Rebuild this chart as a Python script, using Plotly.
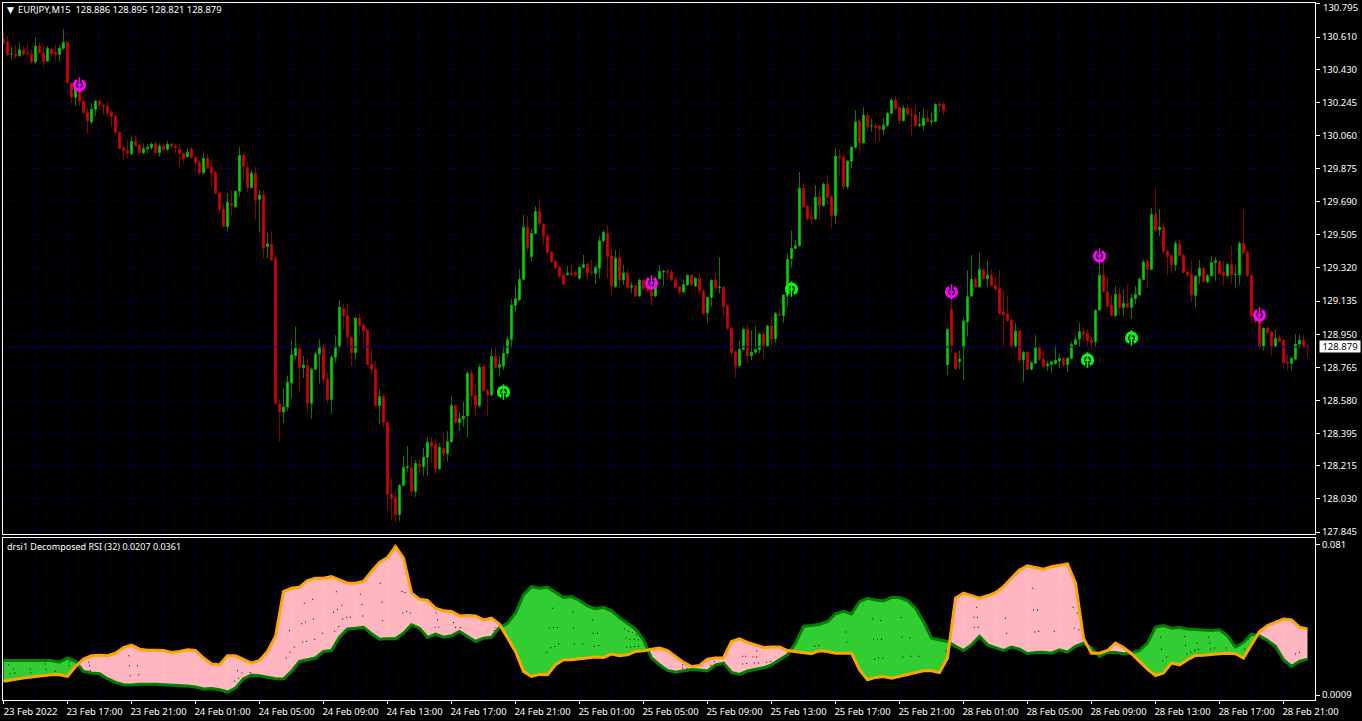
import plotly.graph_objects as go

# ---- price data (EURJPY M15) ----
opens = [
130.597,130.582,130.515,130.515,130.506,130.538,130.519,130.513,130.471,130.560,
130.519,130.476,130.541,130.523,130.513,130.547,130.580,130.351,130.273,130.323,
130.249,130.189,130.135,130.206,130.251,130.229,130.223,130.189,130.169,130.078,
129.990,129.977,129.957,130.027,130.007,129.964,129.986,129.992,130.014,129.964,
130.001,129.983,130.012,130.001,129.979,129.960,129.942,129.985,129.938,129.910,
129.852,129.932,129.882,129.854,129.739,129.647,129.551,129.681,129.662,129.748,
129.949,129.880,129.769,129.850,129.703,129.726,129.439,129.452,129.370,128.560,
128.515,128.543,128.677,128.830,128.867,128.761,128.774,128.564,128.753,128.839,
128.882,128.698,128.586,128.821,128.880,129.094,129.055,128.932,128.847,129.040,
129.001,128.973,128.783,128.753,128.552,128.603,128.457,128.055,128.033,127.942,
128.105,128.206,128.206,128.072,128.225,128.210,128.262,128.346,128.334,128.199,
128.312,128.284,128.349,128.552,128.456,128.478,128.493,128.731,128.608,128.552,
128.770,128.634,128.610,128.826,128.765,128.772,128.843,128.921,129.111,129.141,
129.256,129.547,129.383,129.513,129.636,129.564,129.499,129.407,129.357,129.323,
129.282,129.282,129.290,129.294,129.262,129.323,129.342,129.297,129.290,129.318,
129.472,129.513,129.387,129.215,129.374,129.253,129.290,129.212,129.221,129.163,
129.251,129.212,129.189,129.163,129.260,129.297,129.303,129.297,129.253,129.214,
129.186,129.225,129.279,129.219,129.262,129.191,129.070,129.156,129.253,129.210,
129.212,129.107,128.983,128.850,128.774,128.865,128.977,128.830,128.849,128.865,
128.949,128.884,128.996,128.925,129.063,129.055,129.160,129.372,129.430,129.445,
129.765,129.666,129.605,129.594,129.715,129.668,129.789,129.718,129.614,129.945,
129.938,129.774,129.916,129.994,130.139,130.020,130.173,130.113,130.113,130.113,
130.094,130.117,130.184,130.258,130.217,130.143,130.212,130.175,130.175,130.117,
130.115,130.156,130.137,130.139,130.236,130.236,128.780,129.089,128.843,128.798,
128.876,129.018,129.163,129.256,129.215,129.309,129.260,129.279,129.223,129.206,
129.072,129.063,129.029,128.880,128.968,128.806,128.850,128.754,128.787,128.876,
128.810,128.772,128.782,128.787,128.802,128.815,128.780,128.815,128.893,128.923,
128.964,128.955,128.918,128.908,129.085,129.279,129.186,129.113,129.053,129.173,
129.100,129.122,129.100,129.150,129.169,129.256,129.357,129.312,129.619,129.532,
129.547,129.413,129.390,129.338,129.454,129.390,129.297,129.284,129.167,129.275,
129.318,129.243,129.277,129.351,129.355,129.295,129.277,129.340,129.282,129.282,
129.457,129.407,129.279,129.057,129.029,128.880,128.983,128.962,128.880,128.932,
128.917,128.794,128.787,128.811,128.895,128.917,128.886]

closes = [
130.575,130.510,130.517,130.504,130.538,130.515,130.515,130.471,130.560,130.523,
130.472,130.547,130.515,130.512,130.547,130.580,130.355,130.273,130.323,130.249,
130.188,130.143,130.206,130.251,130.229,130.221,130.188,130.165,130.076,129.988,
129.975,129.964,130.027,130.003,129.964,129.986,129.994,130.012,129.964,130.001,
129.983,130.011,130.001,129.992,129.960,129.931,129.966,129.938,129.910,129.852,
129.932,129.880,129.849,129.737,129.647,129.551,129.687,129.670,129.748,129.949,
129.886,129.769,129.850,129.703,129.726,129.433,129.454,129.364,128.565,128.517,
128.543,128.683,128.834,128.873,128.763,128.778,128.565,128.753,128.839,128.882,
128.698,128.586,128.821,128.880,129.100,129.055,128.936,128.847,129.040,128.997,
128.970,128.781,128.753,128.552,128.601,128.456,128.055,128.031,127.942,128.105,
128.206,128.210,128.072,128.228,128.210,128.262,128.346,128.327,128.199,128.318,
128.279,128.349,128.552,128.456,128.478,128.493,128.731,128.608,128.552,128.765,
128.634,128.610,128.826,128.763,128.780,128.843,128.921,129.111,129.148,129.256,
129.547,129.435,129.513,129.636,129.569,129.495,129.405,129.355,129.322,129.271,
129.228,129.290,129.279,129.282,129.323,129.338,129.294,129.294,129.323,129.471,
129.519,129.385,129.219,129.374,129.253,129.290,129.210,129.221,129.163,129.251,
129.204,129.191,129.163,129.249,129.301,129.301,129.294,129.253,129.210,129.186,
129.227,129.279,129.225,129.262,129.191,129.066,129.156,129.251,129.210,129.214,
129.104,128.981,128.847,128.774,128.865,128.977,128.830,128.849,128.865,128.951,
128.886,128.996,128.925,129.066,129.055,129.169,129.368,129.430,129.445,129.765,
129.662,129.594,129.595,129.715,129.668,129.789,129.715,129.614,129.945,129.938,
129.774,129.916,129.994,130.135,130.020,130.173,130.109,130.115,130.104,130.094,
130.117,130.184,130.258,130.210,130.143,130.212,130.178,130.171,130.115,130.121,
130.156,130.139,130.141,130.234,130.227,130.199,128.977,128.888,128.757,128.810,
129.022,129.160,129.256,129.215,129.312,129.260,129.279,129.223,129.202,129.067,
129.059,129.026,128.880,128.968,128.806,128.847,128.754,128.791,128.876,128.810,
128.769,128.783,128.795,128.804,128.815,128.778,128.815,128.893,128.919,128.964,
128.951,128.914,128.903,129.083,129.279,129.189,129.107,129.053,129.173,129.100,
129.122,129.100,129.150,129.173,129.258,129.353,129.312,129.619,129.528,129.547,
129.411,129.383,129.338,129.457,129.390,129.294,129.281,129.169,129.275,129.318,
129.243,129.277,129.351,129.361,129.286,129.277,129.340,129.282,129.284,129.457,
129.405,129.277,129.052,129.024,128.880,128.983,128.958,128.880,128.927,128.910,
128.791,128.787,128.815,128.895,128.917,128.884,128.879]

highs = [
130.640,130.616,130.556,130.566,130.579,130.556,130.575,130.538,130.607,130.579,
130.566,130.560,130.551,130.566,130.566,130.655,130.584,130.355,130.361,130.370,
130.277,130.212,130.243,130.258,130.258,130.240,130.243,130.202,130.175,130.081,
130.001,130.031,130.053,130.057,130.012,130.016,130.012,130.020,130.026,130.016,
130.016,130.031,130.020,130.012,130.012,129.964,129.988,129.992,129.945,129.923,
129.960,129.957,129.927,129.858,129.742,129.681,129.737,129.752,129.755,129.994,
129.960,129.914,129.867,129.882,129.755,129.755,129.517,129.526,129.381,128.588,
128.649,128.716,128.914,128.992,128.884,128.828,128.817,128.765,128.852,128.921,
128.895,128.740,128.834,128.945,129.141,129.122,129.122,128.945,129.048,129.066,
129.014,128.979,128.867,128.800,128.642,128.610,128.461,128.145,128.076,128.113,
128.269,128.325,128.266,128.247,128.256,128.316,128.374,128.374,128.368,128.340,
128.402,128.409,128.605,128.560,128.515,128.573,128.739,128.750,128.675,128.783,
128.776,128.647,128.867,128.876,128.828,128.889,128.936,129.145,129.225,129.312,
129.616,129.610,129.536,129.666,129.703,129.569,129.510,129.411,129.364,129.331,
129.290,129.331,129.342,129.305,129.331,129.392,129.350,129.368,129.336,129.499,
129.532,129.560,129.439,129.420,129.415,129.336,129.318,129.243,129.234,129.260,
129.256,129.262,129.268,129.268,129.336,129.309,129.318,129.309,129.271,129.219,
129.256,129.286,129.286,129.268,129.294,129.201,129.160,129.256,129.290,129.379,
129.219,129.113,128.986,128.862,128.914,128.988,129.007,128.973,128.996,128.958,
128.964,129.001,129.048,129.076,129.100,129.174,129.402,129.528,129.476,129.856,
129.793,129.672,129.662,129.783,129.756,129.797,129.839,129.728,129.988,129.983,
129.951,129.923,130.001,130.202,130.147,130.217,130.184,130.152,130.134,130.121,
130.156,130.193,130.266,130.281,130.221,130.230,130.230,130.212,130.230,130.191,
130.212,130.202,130.189,130.240,130.253,130.240,128.983,129.150,128.847,128.858,
129.044,129.309,129.392,129.271,129.407,129.318,129.359,129.312,129.275,129.309,
129.197,129.165,129.033,129.011,128.973,128.858,128.858,128.796,128.944,128.880,
128.858,128.802,128.802,128.888,128.843,128.821,128.821,128.908,128.936,129.011,
128.988,128.977,128.936,129.089,129.355,129.364,129.271,129.169,129.219,129.206,
129.200,129.230,129.174,129.219,129.271,129.364,129.368,129.655,129.765,129.647,
129.573,129.424,129.392,129.469,129.472,129.398,129.318,129.361,129.281,129.364,
129.323,129.286,129.387,129.379,129.364,129.359,129.349,129.443,129.336,129.469,
129.644,129.420,129.282,129.066,129.066,128.988,128.996,128.970,128.973,128.945,
128.921,128.839,128.821,128.949,128.951,128.945,128.895]

lows = [
130.566,130.500,130.486,130.491,130.500,130.504,130.510,130.463,130.459,130.515,
130.445,130.471,130.500,130.472,130.471,130.538,130.351,130.240,130.225,130.225,
130.184,130.072,130.124,130.169,130.202,130.175,130.165,130.109,130.068,129.985,
129.923,129.932,129.951,129.998,129.957,129.957,129.960,129.979,129.957,129.942,
129.960,129.975,129.983,129.960,129.875,129.904,129.938,129.932,129.858,129.839,
129.845,129.873,129.774,129.731,129.625,129.547,129.523,129.606,129.653,129.718,
129.811,129.741,129.765,129.588,129.523,129.376,129.376,129.359,128.554,128.349,
128.455,128.521,128.593,128.811,128.623,128.705,128.515,128.476,128.750,128.675,
128.675,128.564,128.504,128.791,128.871,128.977,128.880,128.772,128.811,128.945,
128.871,128.778,128.727,128.545,128.448,128.433,127.971,127.915,127.902,127.908,
128.102,128.182,128.046,128.042,128.163,128.159,128.159,128.232,128.169,128.191,
128.238,128.238,128.344,128.448,128.411,128.433,128.372,128.545,128.495,128.539,
128.629,128.495,128.606,128.757,128.713,128.750,128.824,128.871,129.076,129.137,
129.253,129.411,129.355,129.510,129.547,129.448,129.398,129.350,129.309,129.268,
129.225,129.281,129.275,129.268,129.256,129.318,129.256,129.279,129.230,129.262,
129.458,129.262,129.169,129.212,129.204,129.225,129.202,129.178,129.160,129.160,
129.197,129.187,129.107,129.160,129.253,129.219,129.253,129.249,129.206,129.169,
129.178,129.219,129.219,129.215,129.187,129.057,129.014,129.104,129.182,129.178,
129.048,128.977,128.824,128.707,128.768,128.862,128.787,128.806,128.843,128.843,
128.815,128.877,128.884,128.903,129.052,129.014,129.104,129.323,129.424,129.439,
129.659,129.588,129.560,129.588,129.584,129.662,129.672,129.539,129.566,129.834,
129.759,129.759,129.877,129.988,129.979,130.016,130.081,130.081,130.020,130.026,
130.063,130.109,130.180,130.202,130.119,130.137,130.169,130.053,130.106,130.106,
130.087,130.134,130.113,130.135,130.193,130.175,128.722,128.843,128.754,128.754,
128.694,128.936,129.160,129.212,129.212,129.256,129.215,129.215,129.188,129.063,
128.880,129.020,128.871,128.876,128.787,128.685,128.746,128.750,128.783,128.802,
128.765,128.746,128.735,128.778,128.759,128.772,128.739,128.810,128.888,128.876,
128.908,128.880,128.862,128.880,129.081,129.178,129.104,129.048,129.048,129.052,
129.048,129.094,129.037,129.118,129.163,129.253,129.204,129.308,129.523,129.498,
129.405,129.281,129.290,129.305,129.383,129.290,129.271,129.126,129.100,129.230,
129.238,129.234,129.271,129.249,129.282,129.225,129.271,129.230,129.208,129.225,
129.398,129.271,129.011,129.011,128.869,128.858,128.951,128.828,128.876,128.906,
128.768,128.746,128.746,128.802,128.869,128.869,128.821]

sell_bars = [19, 162, 237, 274, 314]
sell_prices = [130.342, 129.236, 129.186, 129.387, 129.057]
buy_bars = [125, 197, 271, 282]
buy_prices = [128.627, 129.202, 128.806, 128.929]

price_ticks = [130.795,130.610,130.430,130.245,130.060,129.875,129.690,129.505,129.320,
               129.135,128.950,128.765,128.580,128.395,128.215,128.030,127.845]
last_price = 128.879

# ---- Decomposed RSI, every second bar ----
drsi_bars = list(range(0, 327, 2))
drsi_orange = [
.0082,.0090,.0099,.0103,.0108,.0112,.0117,.0117,.0108,.0161,.0200,.0218,.0221,.0218,.0232,.0262,
.0275,.0253,.0248,.0248,.0246,.0236,.0241,.0250,.0246,.0206,.0174,.0170,.0218,.0218,.0200,.0179,
.0193,.0241,.0321,.0560,.0577,.0583,.0618,.0630,.0630,.0639,.0622,.0604,.0604,.0613,.0666,.0715,
.0740,.0799,.0737,.0551,.0519,.0512,.0471,.0457,.0453,
.0430,.0432,.0430,.0409,.0418,.0386,.0317,.0241,.0135,.0108,.0119,.0117,.0170,.0197,.0197,.0202,
.0206,.0211,.0209,.0227,.0218,.0223,.0241,.0244,.0253,.0259,.0246,.0214,.0183,.0160,.0167,.0200,
.0206,.0206,.0294,.0308,.0289,.0276,.0262,.0264,.0264,.0246,.0241,.0232,.0229,.0245,.0241,.0232,
.0232,.0232,.0144,.0090,.0103,.0108,.0099,.0108,.0117,
.0129,.0138,.0138,.0129,.0206,.0524,.0551,.0537,.0524,.0537,.0554,.0586,.0630,.0675,.0696,.0689,
.0678,.0692,.0701,.0706,.0604,.0312,.0232,.0232,.0246,.0285,.0262,.0229,.0188,.0147,.0113,.0126,
.0179,.0170,.0197,.0220,.0221,.0227,.0229,.0232,.0229,.0206,.0276,.0347,.0379,.0395,.0413,.0409,
.0370,.0361]
drsi_green = [
.0193,.0193,.0197,.0193,.0193,.0193,.0193,.0184,.0206,.0188,.0135,.0126,.0122,.0096,.0076,.0064,
.0062,.0066,.0067,.0067,.0064,.0062,.0059,.0057,.0052,.0041,.0044,.0037,.0025,.0046,.0096,.0115,
.0112,.0103,.0096,.0094,.0135,.0188,.0197,.0206,.0241,.0246,.0317,.0361,.0365,.0370,.0335,.0306,
.0308,.0308,.0338,.0383,.0365,.0315,.0333,.0317,.0324,
.0347,.0321,.0294,.0312,.0317,.0368,.0391,.0445,.0542,.0586,.0577,.0583,.0554,.0528,.0533,.0512,
.0483,.0468,.0476,.0457,.0421,.0391,.0360,.0303,.0206,.0170,.0140,.0131,.0140,.0145,.0142,.0137,
.0170,.0179,.0129,.0119,.0137,.0147,.0154,.0170,.0197,.0223,.0285,.0374,.0379,.0386,.0400,.0441,
.0455,.0441,.0506,.0524,.0515,.0510,.0528,.0528,.0512,
.0471,.0400,.0312,.0303,.0294,.0268,.0246,.0276,.0321,.0276,.0259,.0246,.0264,.0253,.0229,.0236,
.0237,.0232,.0250,.0237,.0268,.0285,.0259,.0214,.0236,.0236,.0229,.0232,.0246,.0285,.0370,.0379,
.0365,.0368,.0360,.0356,.0356,.0352,.0356,.0324,.0264,.0289,.0333,.0324,.0299,.0268,.0197,.0161,
.0188,.0200]
assert len(drsi_orange) == len(drsi_bars) == len(drsi_green)
assert len(opens) == len(closes) == len(highs) == len(lows) == 327

# small black specks of the indicator inside the bands
speck_bars = [
1.3,2.5,2.8,1.7,6.7,6.8,10.4,10.6,12.9,16.4,16.4,21.3,21.5,21.7,31.3,31.5,33.5,31.7,33.8,58.5,58.8,59.6,57.8,61.7,
70.7,71.5,71.7,72.7,74.5,75.5,77.5,75.2,77.3,74.8,75.8,77.8,79.8,82.8,83.8,82.5,83.5,84.6,83.2,84.8,85.8,86.7,
89.2,89.6,89.8,94.2,94.6,94.8,99.6,100.4,99.8,100.8,101.7,108.2,108.5,107.9,108.8,112.5,
137.3,142.3,147.3,136.4,137.5,138.5,142.5,147.4,148.5,135.8,136.8,137.8,138.8,142.7,144.8,147.7,148.8,155.2,156.2,
157.3,158.3,155.6,156.6,157.7,158.7,155.8,156.8,157.8,158.8,122.7,123.1,123.8,113,114.2,184.8,185.6,187.4,188.3,
188.3,184.8,185.8,187.7,188.7,190.8,191.8,193.9,176.8,177.7,169.8,170.6,169.8,170.8,202.8,203.8,210.6,210.8,217.3,
219.3,217.5,218.5,219.5,217.8,218.8,219.8,224.4,224.6,224.8,
226.6,226.8,228.8,235.6,243.3,242.6,243.5,250.5,242.7,243.7,250.8,257.3,257.5,258.5,257.8,258.8,262.7,267.4,268.5,
267.7,268.8,274.1,289.3,289.5,290.8,289.8,295.3,295.5,295.8,296.8,297.8,298.7,298.4,301.3,301.6,301.8,302.8,305.7,
310.3,311.2,323,324]
speck_values = [
.0170,.0147,.0126,.0122,.0147,.0126,.0174,.0143,.0135,.0184,.0165,.0184,.0165,.0140,.0218,.0165,.0165,.0112,.0117,
.0138,.0099,.0126,.0082,.0129,
.0206,.0351,.0237,.0264,.0388,.0397,.0414,.0498,.0519,.0291,.0294,.0306,.0338,.0349,.0374,.0450,.0466,.0487,.0558,
.0413,.0423,.0423,.0545,.0489,.0430,.0604,.0503,.0404,.0560,.0554,.0445,.0453,.0445,.0445,.0409,.0370,.0370,.0395,
.0471,.0450,.0409,.0367,.0368,.0368,.0365,.0338,.0338,.0237,.0260,.0267,.0280,.0280,.0280,.0269,.0273,.0360,.0349,
.0342,.0328,.0312,.0306,.0306,.0303,.0264,.0264,.0267,.0269,.0352,.0365,.0383,.0368,.0368,.0216,.0216,.0211,.0211,
.0243,.0174,.0177,.0179,.0179,.0184,.0188,.0200,.0167,.0188,.0170,.0170,.0152,.0152,.0269,.0273,.0344,.0291,.0413,
.0406,.0306,.0306,.0306,.0200,.0206,.0206,.0421,.0317,.0211,
.0312,.0216,.0216,.0243,.0476,.0423,.0423,.0418,.0370,.0370,.0338,.0577,.0462,.0462,.0344,.0349,.0349,.0476,.0445,
.0365,.0356,.0234,.0317,.0253,.0211,.0191,.0321,.0273,.0227,.0237,.0248,.0253,.0285,.0317,.0285,.0253,.0259,.0259,
.0253,.0306,.0227,.0237]
assert len(speck_bars) == len(speck_values)

time_labels = ["23 Feb 2022","23 Feb 17:00","23 Feb 21:00","24 Feb 01:00","24 Feb 05:00","24 Feb 09:00",
               "24 Feb 13:00","24 Feb 17:00","24 Feb 21:00","25 Feb 01:00","25 Feb 05:00","25 Feb 09:00",
               "25 Feb 13:00","25 Feb 17:00","25 Feb 21:00","28 Feb 01:00","28 Feb 05:00","28 Feb 09:00",
               "28 Feb 13:00","28 Feb 17:00","28 Feb 21:00"]
label_bars = [16 * k for k in range(len(time_labels))]
grid_bars = [8 + 16 * k for k in range(len(time_labels))]

FONT = "Noto Sans"
GRID = "#00006A"
DASH = "2px,3px"
X_RANGE = [-0.125, 327.875]
bars = list(range(len(opens)))

fig = go.Figure()

# last-price line
fig.add_trace(go.Scatter(x=X_RANGE, y=[last_price, last_price], mode="lines", xaxis="x", yaxis="y",
                         line=dict(color="#000060", width=1), hoverinfo="skip", showlegend=False))

# wicks in the dark shade, then the bodies on top in the bright shade
fig.add_trace(go.Candlestick(
    x=bars, open=opens, high=highs, low=lows, close=closes, xaxis="x", yaxis="y",
    increasing=dict(line=dict(color="#008000", width=1), fillcolor="#00FF00"),
    decreasing=dict(line=dict(color="#8B0000", width=1), fillcolor="#FF0000"),
    whiskerwidth=0, hoverinfo="skip", showlegend=False))
fig.add_trace(go.Candlestick(
    x=bars, open=opens, close=closes,
    high=[max(o, c) for o, c in zip(opens, closes)],
    low=[min(o, c) for o, c in zip(opens, closes)], xaxis="x", yaxis="y",
    increasing=dict(line=dict(color="#00B400", width=1), fillcolor="#00FF00"),
    decreasing=dict(line=dict(color="#C00000", width=1), fillcolor="#FF0000"),
    whiskerwidth=0, hoverinfo="skip", showlegend=False))


def add_signal(sig_bars, prices, col, wedge, head):
    common = dict(x=sig_bars, y=prices, mode="markers", xaxis="x", yaxis="y", hoverinfo="skip", showlegend=False)
    fig.add_trace(go.Scatter(**common, marker=dict(symbol="circle-open", size=10, color=col,
                                                   line=dict(color=col, width=3.2))))
    fig.add_trace(go.Scatter(**common, marker=dict(symbol=wedge, size=9, color="#000000", line=dict(width=0))))
    fig.add_trace(go.Scatter(**common, marker=dict(symbol="line-ns", size=11, line=dict(color=col, width=1.5))))
    fig.add_trace(go.Scatter(**common, marker=dict(symbol=head, size=5, color=col, line=dict(width=0))))


add_signal(sell_bars, sell_prices, "#FF00FF", "arrow-down", "triangle-down")
add_signal(buy_bars, buy_prices, "#00FF00", "arrow-up", "triangle-up")


# ---- filled bands between the two DRSI lines ----
def bands(xs, a, b):
    """Split the pair of lines into runs where a>b or a<=b, adding the crossings."""
    runs, cur = [], [(xs[0], a[0], b[0])]
    for k in range(1, len(xs)):
        d0, d1 = a[k - 1] - b[k - 1], a[k] - b[k]
        if d0 * d1 < 0:
            t = d0 / (d0 - d1)
            xc = xs[k - 1] + t * (xs[k] - xs[k - 1])
            yc = a[k - 1] + t * (a[k] - a[k - 1])
            cur.append((xc, yc, yc))
            runs.append(cur)
            cur = [(xc, yc, yc)]
        cur.append((xs[k], a[k], b[k]))
    runs.append(cur)
    return runs


for run in bands(drsi_bars, drsi_orange, drsi_green):
    pink = sum(p[1] - p[2] for p in run) > 0
    xs = [p[0] for p in run] + [p[0] for p in reversed(run)]
    ys = [p[1] for p in run] + [p[2] for p in reversed(run)]
    fig.add_trace(go.Scatter(x=xs, y=ys, mode="lines", fill="toself", xaxis="x2", yaxis="y2",
                             fillcolor="#FFB6C1" if pink else "#32CD32",
                             line=dict(width=0), hoverinfo="skip", showlegend=False))

# grid lines seen through the pink band
for g in sorted(label_bars + grid_bars):
    if g in drsi_bars:
        k = drsi_bars.index(g)
        if drsi_orange[k] > drsi_green[k]:
            fig.add_trace(go.Scatter(x=[g, g], y=[drsi_green[k], drsi_orange[k]], mode="lines",
                                     xaxis="x2", yaxis="y2", hoverinfo="skip", showlegend=False,
                                     line=dict(color="#FFCFA8", width=1, dash="3px,3px")))

fig.add_trace(go.Scatter(x=speck_bars, y=speck_values, mode="markers", xaxis="x2", yaxis="y2", hoverinfo="skip",
                         showlegend=False, marker=dict(symbol="square", size=1, color="#000000", line=dict(width=0))))
fig.add_trace(go.Scatter(x=drsi_bars, y=drsi_green, mode="lines", xaxis="x2", yaxis="y2", hoverinfo="skip",
                         showlegend=False, line=dict(color="#008000", width=3)))
fig.add_trace(go.Scatter(x=drsi_bars, y=drsi_orange, mode="lines", xaxis="x2", yaxis="y2", hoverinfo="skip",
                         showlegend=False, line=dict(color="#FFA500", width=3)))

tick_font = dict(family=FONT, size=9.5, color="#FFFFFF")
frame = dict(showline=True, mirror=True, linecolor="#FFFFFF", linewidth=1, zeroline=False)
x_common = dict(range=X_RANGE, type="linear", tickmode="array", tickvals=label_bars,
                showgrid=True, gridcolor=GRID, griddash=DASH, gridwidth=1,
                minor=dict(tickmode="array", tickvals=grid_bars, showgrid=True, gridcolor=GRID,
                           griddash=DASH, gridwidth=1, ticks=""),
                **frame)

fig.update_layout(
    width=1362, height=721, autosize=False,
    margin=dict(l=3, r=47, t=3, b=21),
    paper_bgcolor="#000000", plot_bgcolor="#000000",
    showlegend=False, boxgap=0.5, boxmode="overlay",
    font=dict(family=FONT, size=9.5, color="#FFFFFF"),
    xaxis=dict(domain=[0, 1], anchor="y", showticklabels=False, ticks="", rangeslider=dict(visible=False), **x_common),
    xaxis2=dict(domain=[0, 1], anchor="y2", matches="x", ticktext=time_labels, ticks="outside", ticklen=3,
                tickcolor="#FFFFFF", tickfont=tick_font, ticklabelshift=27, ticklabelstandoff=0, tickangle=0,
                **x_common),
    yaxis=dict(domain=[0.2382, 1], anchor="x", side="right", range=[127.834, 130.800],
               tickmode="array", tickvals=price_ticks, ticktext=[f"{v:.3f}" for v in price_ticks],
               ticks="outside", ticklen=4, tickcolor="#FFFFFF", tickfont=tick_font,
               showgrid=True, gridcolor=GRID, griddash=DASH, gridwidth=1, **frame),
    yaxis2=dict(domain=[0, 0.2331], anchor="x2", side="right", range=[-0.00173, 0.0847],
                tickmode="array", tickvals=[0.081, 0.0009], ticktext=["0.081", "0.0009"],
                ticks="outside", ticklen=4, tickcolor="#FFFFFF", tickfont=tick_font,
                showgrid=False, **frame),
    annotations=[
        dict(text="▼", xref="paper", yref="paper", x=2 / 1312, y=1 - 7 / 697, xanchor="left", yanchor="middle",
             showarrow=False, font=dict(family="DejaVu Sans", size=9, color="#FFFFFF")),
        dict(text="EURJPY,M15  128.886 128.895 128.821 128.879", xref="paper", yref="paper",
             x=13 / 1312, y=1 - 7 / 697, xanchor="left", yanchor="middle", showarrow=False,
             font=dict(family=FONT, size=9.4, color="#FFFFFF")),
        dict(text="drsi1 Decomposed RSI (32) 0.0207 0.0361", xref="paper", yref="paper",
             x=2 / 1312, y=(700 - 546) / 697, xanchor="left", yanchor="middle", showarrow=False,
             font=dict(family=FONT, size=9, color="#FFFFFF")),
        dict(text="128.879", xref="paper", yref="y", x=(1319 - 3) / 1312, y=last_price, xanchor="left",
             yanchor="middle", showarrow=False, bgcolor="#FFFFFF", width=40, height=11, borderpad=0, align="center",
             font=dict(family=FONT, size=9.5, color="#000000")),
        dict(text="130.795", xref="paper", yref="y", x=(1321 - 3) / 1312, y=price_ticks[0], xanchor="left",
             yanchor="middle", yshift=-4, showarrow=False, font=tick_font),
    ],
)

fig.write_html("out.html", config={"displayModeBar": False},
               post_script="document.body.style.margin='0';document.body.style.overflow='hidden';")
